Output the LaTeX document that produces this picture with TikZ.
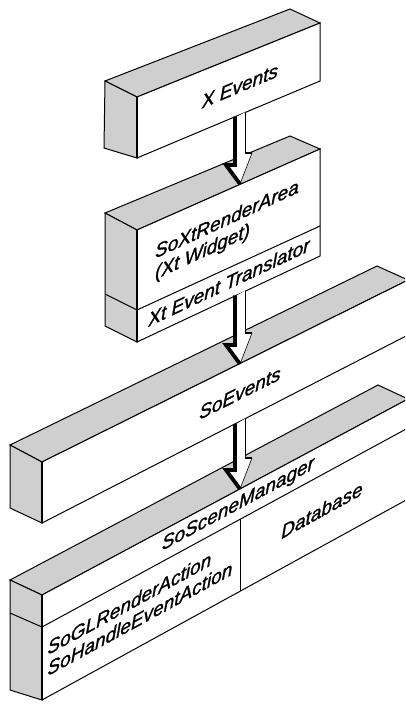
\documentclass[tikz,border=0pt]{standalone}
\usepackage{fontspec}
\setmainfont{Liberation Sans}[ItalicFeatures={FakeBold=1.3}]
\definecolor{facegrey}{gray}{0.81}
% block arrow: #1 name, #2/#3 shaft top y (left/right), #4 tip y
\newcommand{\flowarrow}[4]{%
  \coordinate (#1-tl) at (235,#2);
  \coordinate (#1-tr) at (245,#3);
  \coordinate (#1-tip) at (240,#4);
  \coordinate (#1-lbarb) at (226,#4-19);
  \coordinate (#1-lneck) at (235,#4-19);
  \coordinate (#1-rneck) at (245,#4-31);
  \coordinate (#1-rbarb) at (252,#4-31);
  \fill[white] (237,#2) -- (#1-tr) -- (#1-rneck) -- (#1-rbarb) -- (#1-tip)
    -- (#1-lbarb) -- (#1-lneck) -- cycle;
  \draw[line width=1pt] (#1-tr) -- (#1-rneck);
  \draw[line width=1.5pt] (#1-rneck) -- (#1-rbarb);
  \draw[line width=0.6pt] (#1-rbarb) -- (#1-tip);
  \draw[line width=3.8pt,line join=miter] (#1-tl) -- (#1-lneck) -- (#1-lbarb) -- (#1-tip);
}
\begin{document}
\begin{tikzpicture}[x=1pt,y=-1pt,
  greyface/.style={draw=black,line width=1pt,line join=miter,fill=facegrey},
  frontface/.style={draw=black,line width=1pt,line join=miter,fill=white},
  thinline/.style={draw=black,line width=1pt},
  cornerline/.style={draw=black,line width=1.8pt},
  lbl/.style={font=\fontsize{19}{21}\selectfont\itshape,inner sep=0pt,align=left}]
\useasboundingbox (0,0) rectangle (405,705);
\clip (0,0) rectangle (405,705);

% ---- X Events box
\coordinate (a-lt) at (105,81);  \coordinate (a-ft) at (137,97);
\coordinate (a-rt) at (320,23);  \coordinate (a-bt) at (290,9);
\coordinate (a-lb) at (104,148); \coordinate (a-fb) at (137,158);
\coordinate (a-rb) at (320,81);
\draw[greyface] (a-lt) -- (a-ft) -- (a-rt) -- (a-bt) -- cycle;
\draw[greyface] (a-lt) -- (a-ft) -- (a-fb) -- (a-lb) -- cycle;
\draw[frontface] (a-ft) -- (a-rt) -- (a-rb) -- (a-fb) -- cycle;
\draw[cornerline] (a-ft) -- (a-fb);

% ---- SoXtRenderArea box
\coordinate (b-lt) at (105,213); \coordinate (b-ft) at (137,230);
\coordinate (b-rt) at (320,149); \coordinate (b-bt) at (290,136);
\coordinate (b-ls) at (105,294); \coordinate (b-fs) at (137,310);
\coordinate (b-rs) at (320,226);
\coordinate (b-lb) at (105,326); \coordinate (b-fb) at (137,342);
\coordinate (b-rb) at (320,256);
\draw[greyface] (b-lt) -- (b-ft) -- (b-rt) -- (b-bt) -- cycle;
\draw[greyface] (b-lt) -- (b-ft) -- (b-fb) -- (b-lb) -- cycle;
\draw[frontface] (b-ft) -- (b-rt) -- (b-rb) -- (b-fb) -- cycle;
\draw[thinline] (b-ls) -- (b-fs) -- (b-rs);
\draw[cornerline] (b-ft) -- (b-fb);

% ---- SoEvents bar
\coordinate (c-lt) at (10,445);  \coordinate (c-ft) at (42,462);
\coordinate (c-rt) at (408,280); \coordinate (c-bt) at (377,266);
\coordinate (c-lb) at (10,508);  \coordinate (c-fb) at (42,523);
\coordinate (c-rb) at (408,335);
\draw[greyface] (c-lt) -- (c-ft) -- (c-rt) -- (c-bt) -- cycle;
\draw[greyface] (c-lt) -- (c-ft) -- (c-fb) -- (c-lb) -- cycle;
\draw[frontface] (c-ft) -- (c-rt) -- (c-rb) -- (c-fb) -- cycle;
\draw[cornerline] (c-ft) -- (c-fb);

% ---- SoSceneManager / Database bar
\coordinate (d-lt) at (10,580);  \coordinate (d-ft) at (42,595);
\coordinate (d-rt) at (408,399); \coordinate (d-bt) at (378,385);
\coordinate (d-ls) at (10,613);  \coordinate (d-fs) at (42,627);
\coordinate (d-rs) at (408,428);
\coordinate (d-lb) at (10,690);  \coordinate (d-fb) at (42,700);
\coordinate (d-rb) at (408,499);
\coordinate (d-ms) at (240,519.4); \coordinate (d-mb) at (240,591);
\draw[greyface] (d-lt) -- (d-ft) -- (d-rt) -- (d-bt) -- cycle;
\draw[greyface] (d-lt) -- (d-ft) -- (d-fb) -- (d-lb) -- cycle;
\draw[frontface] (d-ft) -- (d-rt) -- (d-rb) -- (d-fb) -- cycle;
\draw[thinline] (d-ls) -- (d-fs) -- (d-rs);
\draw[thinline] (d-ms) -- (d-mb);
\draw[cornerline] (d-ft) -- (d-fb);

% ---- event flow arrows
\flowarrow{ab}{116.7}{112.4}{184}
\flowarrow{bc}{295.4}{290.7}{364}
\flowarrow{cd}{423.8}{418.7}{489}

% ---- labels
\node[lbl,yslant=0.42] (xev) at (240,86) {X Events};
\node[lbl,yslant=0.46] (ra) at (227,231) {SoXtRenderArea\\(Xt Widget)};
\node[lbl,yslant=0.47] (tr) at (229,282) {Xt Event Translator};
\node[lbl,yslant=0.50] (soev) at (240,393) {SoEvents};
\node[lbl,yslant=0.54] (sm) at (238,505) {SoSceneManager};
\node[lbl,yslant=0.55] (db) at (322,510) {Database};
\node[lbl,yslant=0.55] (act) at (140,608) {SoGLRenderAction\\SoHandleEventAction};
\end{tikzpicture}
\end{document}
